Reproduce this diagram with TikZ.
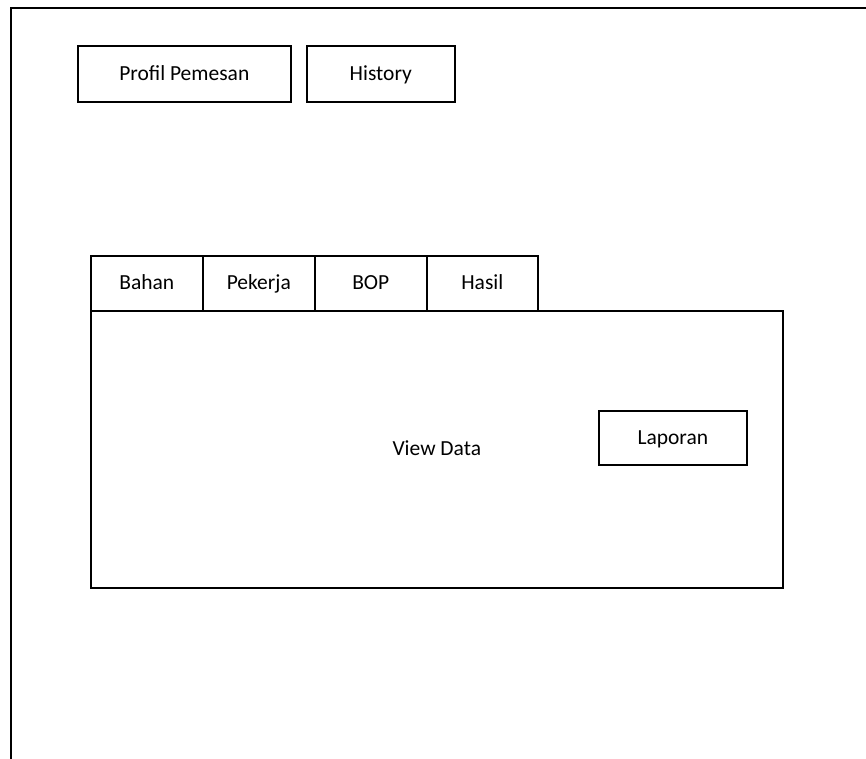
\documentclass[tikz,border=0pt]{standalone}
\usepackage{fontspec}
\setmainfont{Carlito}
\begin{document}
\begin{tikzpicture}[x=1pt,y=-1pt,
  box/.style={draw, line width=1.6pt, anchor=north west, inner sep=0pt, text height=14pt, text depth=1pt, font=\fontsize{21.5}{24}\selectfont},
  frame/.style={line width=1.6pt}]
\useasboundingbox (0,0) rectangle (866,759);
\coordinate (fb) at (11,759);
\coordinate (ftl) at (11,8);
\coordinate (fr) at (866,8);
\draw[frame] (fb) -- (ftl) -- (fr);
\node[box, minimum width=213pt, minimum height=56pt] (profil) at (77,45) {Profil Pemesan};
\node[box, minimum width=148pt, minimum height=56pt] (history) at (306,45) {History};
\node[box, minimum width=692pt, minimum height=277pt] (panel) at (90,310) {View Data};
\node[box, minimum width=112pt, minimum height=55pt] (bahan) at (90,255) {Bahan};
\node[box, minimum width=112pt, minimum height=55pt] (pekerja) at (202,255) {Pekerja};
\node[box, minimum width=112pt, minimum height=55pt] (bop) at (314,255) {BOP};
\node[box, minimum width=111pt, minimum height=55pt] (hasil) at (426,255) {Hasil};
\node[box, minimum width=148pt, minimum height=54pt] (laporan) at (598,410) {Laporan};
\end{tikzpicture}
\end{document}
